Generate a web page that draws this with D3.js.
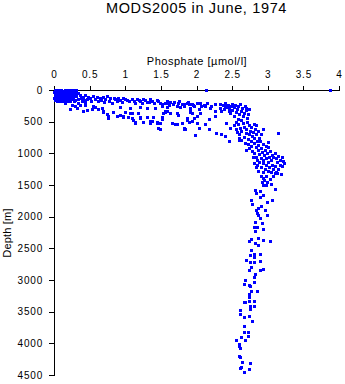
<!DOCTYPE html>
<html><head><meta charset="utf-8">
<script src="https://cdn.jsdelivr.net/npm/d3@7"></script>
<style>
html,body{margin:0;padding:0;background:#fff;}
svg{display:block;font-family:"Liberation Sans",Arial,Helvetica,sans-serif;}
</style></head>
<body><svg id="chart" width="345" height="384"></svg>
<script>
const chartTitle = "MODS2005 in June, 1974";
const xTitle = "Phosphate [\u00b5mol/l]";
const yTitle = "Depth [m]";
const xTicks = [0,0.5,1,1.5,2,2.5,3,3.5,4];
const yTicks = [0,500,1000,1500,2000,2500,3000,3500,4000,4500];

// [phosphate, depth]
const surfaceLayer = [
[0.01,2],[0.04,5],[0.07,0],[0.10,4],[0.13,8],[0.16,2],[0.19,6],[0.22,1],[0.25,7],[0.28,3],[0.31,5],
[0.00,30],[0.03,28],[0.06,35],[0.09,31],[0.12,26],[0.15,33],[0.18,29],[0.21,36],[0.24,27],[0.27,32],[0.30,30],
[0.02,60],[0.05,62],[0.08,57],[0.11,64],[0.14,59],[0.17,61],[0.20,66],[0.23,58],[0.26,63],[0.29,60],[0.33,55],
[0.01,90],[0.04,88],[0.07,93],[0.10,91],[0.13,86],[0.16,94],[0.19,89],[0.22,92],[0.25,87],[0.28,95],[0.31,90],[0.36,85],
[0.00,120],[0.03,118],[0.06,124],[0.09,121],[0.12,117],[0.15,125],[0.18,119],[0.21,122],[0.24,116],[0.27,126],[0.38,115],
[0.02,150],[0.05,148],[0.08,153],[0.11,151],[0.14,147],[0.17,155],[0.20,149],[0.23,152],[0.26,146],[0.30,154],[0.34,145],
[0.04,175],[0.09,172],[0.13,178],[0.18,174],[0.22,180],[0.28,176],
[0.33,200],[0.39,170],[0.41,110],[0.36,230],[0.25,230],[0.22,305],[0.32,289],[0.41,331],[0.15,210],[0.29,260],[0.46,140],[0.44,190],[0.31,79]
];

const surfaceOutliers = [[2.13,0],[3.87,0]];

const upperBand = [
[0.435,79],[0.48,105],[0.55,95],[0.60,105],[0.645,131],[0.69,116],[0.74,95],[0.79,131],[0.86,147],[0.90,131],
[0.97,131],[1.02,158],[1.09,147],[1.16,137],[1.21,168],[1.25,147],[1.30,184],[1.37,168],[1.44,158],[1.49,210],
[1.56,200],[1.63,184],[1.67,221],[1.74,210],[1.79,221],[1.86,200],[1.93,221],[2.00,210],
[0.225,305],[0.32,289],[0.435,237],[0.46,315],[0.53,305],[0.575,263],[0.62,305],[0.67,289],[0.69,342],[0.74,384],
[0.76,436],[0.83,342],[0.88,410],[0.93,394],[0.97,410],[1.0,342],[1.04,420],[1.09,368],[1.11,473],[1.14,499],
[1.18,368],[1.21,431],[1.25,499],[1.30,420],[1.35,515],[1.37,483],[1.39,420],[1.44,499],[1.49,526],[1.51,431],
[1.53,368],[1.56,342],[1.58,326],[1.63,358],[1.65,515],[1.70,536],[1.72,368],[1.74,394],[1.79,526],[1.82,604],
[1.84,620],[1.86,473],[1.89,499],[1.91,342],[1.93,368],[1.96,447],[1.98,710],[2.00,526],[2.03,604],[1.49,620],
[1.14,525],[0.93,263],[1.07,289],[1.21,263],[1.30,289],[1.42,289],[1.58,263],[1.77,273],[1.91,289],
[0.41,331],[0.55,252],[0.69,331],[0.76,410],[0.83,347],[0.97,420],[1.07,358],[1.09,436],[1.14,515],[1.21,436],
[1.25,505],[1.35,489],[1.44,526],[1.46,594],
[0.38,120],[0.42,150],[0.50,130],[0.52,170],[0.58,140],[0.62,180],[0.66,150],[0.70,190],[0.72,140],[0.77,170],
[0.81,200],[0.84,120],[0.88,175],[0.92,160],[0.95,195],[0.99,140],[1.05,180],[1.12,170],[1.14,205],[1.19,150],
[1.23,200],[1.28,160],[1.33,190],[1.35,140],[1.41,200],[1.46,175],[1.52,225],[1.58,170],[1.62,240],[1.68,190],
[1.72,245],[1.76,180],[1.82,250],[1.88,185],[1.95,240],[2.05,200],[2.10,230],[2.15,210],[2.20,245],
[1.46,173],[1.51,252],[1.60,200],[1.56,331],[1.51,462],[1.65,515],[1.72,358],[1.72,541],[1.82,620],[1.86,436],
[1.91,305],[1.93,489],[2.00,410],[2.07,252],[2.12,541],[2.17,462],[2.17,620],[2.26,410],[2.28,673],[2.35,699],
[2.40,725],[2.45,804],[2.42,515],[2.47,594],[2.12,252],[2.19,279],[2.26,226],[2.33,279],[2.35,331],[2.40,252],
[2.26,331],[1.89,226],[1.82,226],[1.96,252],[2.03,305],[2.05,358]
];

const nutricline = [
[2.33,215],[2.37,240],[2.40,205],[2.42,265],[2.44,230],[2.46,290],[2.48,250],[2.50,215],[2.50,320],[2.52,275],
[2.54,240],[2.55,345],[2.57,300],[2.58,260],[2.60,380],[2.61,225],[2.62,330],[2.64,290],[2.65,410],[2.66,360],
[2.68,250],[2.70,320],[2.71,440],[2.72,385],[2.74,300],[2.53,410],[2.47,360],[2.58,450],[2.63,470],[2.56,500],
[2.69,280],[2.45,330],[2.39,300],
[2.52,560],[2.55,620],[2.58,530],[2.60,700],[2.61,600],[2.63,650],[2.65,520],[2.66,740],[2.67,580],[2.69,680],
[2.70,620],[2.71,500],[2.72,770],[2.73,560],[2.74,700],[2.75,640],[2.76,800],[2.77,590],[2.78,720],[2.79,660],
[2.80,540],[2.81,760],[2.82,610],[2.84,700],[2.85,800],[2.86,650],[2.88,750],[2.90,700],[2.62,790],[2.59,760],
[2.68,830],[2.57,660],[2.70,946],[2.59,790],[3.15,683],[2.94,620],[2.83,560],
[2.72,860],[2.74,920],[2.76,880],[2.78,960],[2.80,830],[2.81,1000],[2.83,900],[2.84,1050],[2.86,950],[2.87,870],
[2.88,1010],[2.90,920],[2.91,1070],[2.92,980],[2.94,850],[2.95,1030],[2.96,940],[2.98,1080],[2.99,1000],[3.00,900],
[3.02,1050],[3.03,970],[3.05,1100],[3.06,1020],[3.08,1060],[3.10,990],[3.12,1080],[3.14,1040],[3.17,1100],[3.20,1060],
[3.22,1120],[2.93,1100],[2.85,1110],[2.79,1060],[2.89,800],[2.97,880],[3.01,820],
[2.80,1150],[2.83,1220],[2.85,1180],[2.87,1280],[2.88,1140],[2.90,1350],[2.91,1210],[2.93,1160],[2.94,1300],[2.95,1420],
[2.96,1240],[2.97,1180],[2.98,1360],[3.00,1280],[3.01,1140],[3.02,1220],[3.03,1400],[3.05,1300],[3.06,1180],[3.07,1250],
[3.08,1350],[3.10,1200],[3.12,1290],[3.13,1140],[3.15,1250],[3.17,1183],[3.18,1320],[3.20,1200],[3.10,1314],[2.92,1460],
[2.99,1446],[2.94,1393],[2.87,1272],[3.13,1304],[2.94,1498],[3.04,1480],[2.97,1500],[3.23,1160]
];

const deepWater = [
[2.82,1577],[2.89,1588],[3.10,1566],[2.77,1735],[2.89,1683],[2.99,1762],[3.06,1735],[2.87,1866],[2.96,1892],[2.85,1945],
[2.87,1971],[2.99,1971],[2.82,2077],[2.92,2103],[2.89,2024],[2.80,2156],[2.85,2156],[2.94,2197],[2.82,2224],[2.73,2381],
[2.77,2350],[2.87,2339],[2.94,2366],[3.03,2392],[2.82,2418],[2.87,2444],[2.77,2523],[2.75,2602],[2.80,2592],[2.89,2592],
[2.80,2644],[2.70,2681],[2.75,2708],[2.80,2718],[2.89,2697],[2.77,2802],[2.73,2839],[2.82,2907],[2.80,2960],[2.94,2828],
[2.89,2839],[2.68,2996],[2.66,3064],[2.73,3086],[2.75,3102],[2.80,3033],[2.73,3222],[2.77,3181],[2.85,3181],[2.73,3275],
[2.68,3348],[2.73,3338],[2.80,3338],[2.67,3354],[2.75,3406],[2.80,3406],[2.75,3459],[2.61,3480],[2.61,3533],[2.73,3564],
[2.67,3585],[2.78,3648],[2.66,3722],[2.66,3822],[2.72,3822],[2.72,3890],[2.63,3901],[2.68,3943],[2.56,3954],[2.59,4006],
[2.59,4048],[2.61,4075],[2.60,4206],[2.61,4222],[2.64,4301],[2.75,4311],[2.61,4390],[2.63,4380],[2.73,4406],[2.66,4454],
[2.84,1620],[2.93,1650],[2.78,1800],[2.90,1830],[2.83,1900]
];

const samples = [].concat(surfaceLayer, surfaceOutliers, upperBand, nutricline, deepWater);

const svg = d3.select("#chart");
const x = d3.scaleLinear().domain([0,4]).range([54,339]);
const y = d3.scaleLinear().domain([0,4500]).range([90,375]);

svg.append("text").attr("x",196.5).attr("y",12.5).attr("text-anchor","middle")
  .attr("font-size","14.5px").attr("letter-spacing","0.65px").text(chartTitle);

const xAxis = svg.append("g").attr("transform","translate(0,90)")
  .call(d3.axisTop(x).tickValues(xTicks).tickFormat(d=>String(d)).tickSize(4).tickSizeOuter(0).tickPadding(8));
const yAxis = svg.append("g").attr("transform","translate(54,0)")
  .call(d3.axisLeft(y).tickValues(yTicks).tickFormat(d=>String(d)).tickSize(5).tickSizeOuter(0).tickPadding(6));
[xAxis,yAxis].forEach(g=>{
  g.attr("font-family",null).attr("font-size",null);
  g.selectAll("text").attr("font-size","10px").attr("letter-spacing","0.8px").attr("fill","#000");
  g.selectAll("line,path").attr("stroke","#000").attr("shape-rendering","crispEdges");
});

svg.append("text").attr("x",197).attr("y",65).attr("text-anchor","middle")
  .attr("font-size","11px").attr("letter-spacing","0.5px").text(xTitle);
svg.append("text").attr("transform","translate(11,233) rotate(-90)").attr("text-anchor","middle")
  .attr("font-size","11px").attr("letter-spacing","0.2px").text(yTitle);

svg.append("g").selectAll("rect").data(samples).join("rect")
  .attr("x",d=>Math.round(x(d[0]))-1).attr("y",d=>Math.round(y(d[1]))-1)
  .attr("width",3).attr("height",3).attr("fill","#0000ff").attr("shape-rendering","crispEdges");
</script></body></html>
